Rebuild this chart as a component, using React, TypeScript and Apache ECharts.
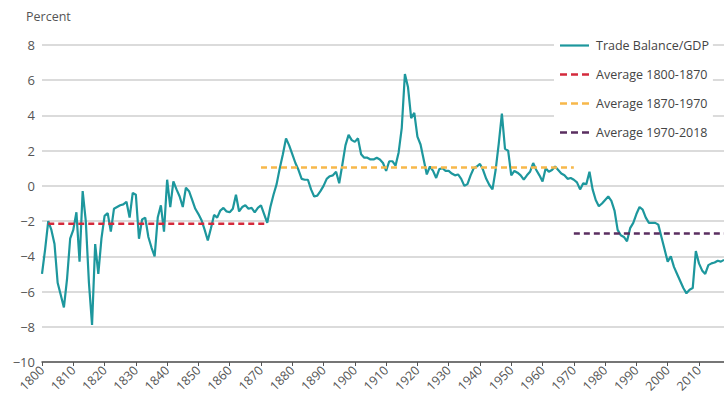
import React, { useEffect, useRef } from "react";
import * as echarts from "echarts";

const firstYear = 1800;
// Trade balance / GDP, percent, annual 1800-2018
const tradeBalance = [
  -5.0, -3.6, -2.0, -2.5, -3.3, -5.5, -6.2, -6.9, -5.3, -3.0,
  -2.5, -1.5, -4.3, -0.3, -2.0, -5.5, -7.9, -3.3, -5.0, -3.0,
  -1.7, -1.55, -2.6, -1.3, -1.2, -1.1, -1.05, -0.9, -1.8, -0.4,
  -0.5, -3.0, -1.9, -1.8, -2.9, -3.5, -4.0, -1.8, -1.1, -2.6,
  0.35, -1.2, 0.25, -0.2, -0.6, -1.2, -0.1, -0.3, -0.8, -1.3,
  -1.6, -1.95, -2.5, -3.1, -2.4, -1.65, -1.8, -1.4, -1.25, -1.45,
  -1.5, -1.3, -0.5, -1.45, -1.2, -1.1, -1.3, -1.25, -1.5, -1.25,
  -1.1, -1.6, -2.1, -1.2, -0.5, 0.1, 1.0, 1.8, 2.7, 2.3,
  1.8, 1.3, 0.9, 0.4, 0.35, 0.35, -0.2, -0.6, -0.55, -0.3,
  0.0, 0.4, 0.55, 0.6, 0.8, 0.15, 1.2, 2.3, 2.9, 2.6,
  2.5, 2.7, 1.8, 1.6, 1.6, 1.5, 1.5, 1.6, 1.5, 1.3,
  0.85, 1.4, 1.4, 1.15, 1.9, 3.3, 6.35, 5.6, 3.85, 4.15,
  2.8, 2.35, 1.5, 0.65, 1.1, 0.85, 0.45, 0.95, 1.0, 0.85,
  0.85, 0.7, 0.6, 0.65, 0.4, 0.0, 0.1, 0.6, 1.0, 1.1,
  1.25, 0.9, 0.4, 0.05, -0.2, 0.9, 2.4, 4.1, 2.1, 2.0,
  0.6, 0.85, 0.75, 0.6, 0.35, 0.6, 0.8, 1.3, 0.9, 0.6,
  0.25, 1.0, 0.8, 0.9, 1.1, 0.9, 0.7, 0.6, 0.4, 0.45,
  0.35, 0.2, -0.2, 0.15, 0.1, 0.8, -0.2, -0.8, -1.15, -1.0,
  -0.8, -0.6, -0.85, -1.4, -2.5, -2.8, -2.9, -3.15, -2.4, -2.1,
  -1.6, -1.2, -1.35, -1.8, -2.1, -2.1, -2.1, -2.2, -2.9, -3.6,
  -4.3, -4.0, -4.6, -5.0, -5.4, -5.8, -6.1, -5.9, -5.8, -3.7,
  -4.4, -4.8, -5.0, -4.5, -4.4, -4.35, -4.25, -4.3, -4.2,
];

const mainName = "Trade Balance/GDP";
const avgNames = ["Average 1800-1870", "Average 1870-1970", "Average 1970-2018"];
const avgStart = [1802, 1870, 1970];
const avgEnd = [1872, 1970, 2018];
const avgValue = [-2.15, 1.05, -2.7];
const avgColors = ["#d42a3c", "#f7b84a", "#5a2e60"];

const yTicks = [-10, -8, -6, -4, -2, 0, 2, 4, 6, 8];

const solidIcon = "path://M0,0H29V2.2H0Z";
const dashIcon = "path://M0,0H7V2.6H0Z M11,0H18V2.6H11Z M22,0H29V2.6H22Z";

export default function App() {
  const ref = useRef<HTMLDivElement>(null);
  useEffect(() => {
    if (!ref.current) return;
    const chart = echarts.init(ref.current, null, { renderer: "svg" });
    const font = "'Open Sans', 'Noto Sans', sans-serif";
    const mainData = tradeBalance.map((v, i) => [firstYear + i, v]);
    const series: any[] = [
      {
        name: mainName,
        type: "line",
        data: mainData,
        symbol: "none",
        lineStyle: { color: "#1d979d", width: 2.2 },
        itemStyle: { color: "#1d979d" },
        z: 3,
      },
    ];
    avgNames.forEach((n, i) => {
      series.push({
        name: n,
        type: "line",
        data: [
          [avgStart[i], avgValue[i]],
          [avgEnd[i], avgValue[i]],
        ],
        symbol: "none",
        lineStyle: { color: avgColors[i], width: 2.5, type: [6, 4] },
        itemStyle: { color: avgColors[i] },
        z: 4,
      });
    });
    chart.setOption({
      animation: false,
      backgroundColor: "#fff",
      textStyle: { fontFamily: font },
      grid: { left: 42, right: 0, top: 45, bottom: 41, containLabel: false },
      legend: {
        left: 554,
        top: 33,
        orient: "vertical",
        backgroundColor: "#fff",
        padding: [6, 4, 8, 6],
        itemWidth: 29,
        itemHeight: 14,
        itemGap: 16,
        textStyle: { fontFamily: font, fontSize: 12.5, color: "#444", padding: [0, 0, 0, 2] },
        data: [
          { name: mainName, icon: solidIcon },
          ...avgNames.map((n) => ({ name: n, icon: dashIcon })),
        ],
        z: 10,
      },
      graphic: [
        {
          type: "text",
          left: 26,
          top: 10,
          style: { text: "Percent", fontFamily: font, fontSize: 12.5, fill: "#555" },
        },
      ],
      xAxis: {
        type: "value",
        min: 1800,
        max: 2018,
        interval: 10,
        axisLine: { show: true, onZero: false, lineStyle: { color: "#555", width: 1.5 } },
        axisTick: { show: true, length: 4, lineStyle: { color: "#555" } },
        axisLabel: {
          rotate: 45,
          margin: 6,
          color: "#555",
          fontFamily: font,
          fontSize: 12.5,
          showMaxLabel: false,
          formatter: (v: number) => (v % 10 === 0 ? String(v) : ""),
        },
        splitLine: { show: false },
      },
      yAxis: {
        type: "value",
        min: yTicks[0],
        max: yTicks[yTicks.length - 1],
        interval: 2,
        axisLine: { show: false },
        axisTick: { show: false },
        axisLabel: {
          color: "#555",
          fontFamily: font,
          fontSize: 13,
          margin: 7,
          formatter: (v: number) => String(v).replace("-", "\u2212"),
        },
        splitLine: { lineStyle: { color: "#cfcfcf", width: 1.5 } },
      },
      series,
    });
    return () => chart.dispose();
  }, []);
  return <div ref={ref} style={{ width: 724, height: 403, position: "absolute", left: 0, top: 0 }} />;
}
